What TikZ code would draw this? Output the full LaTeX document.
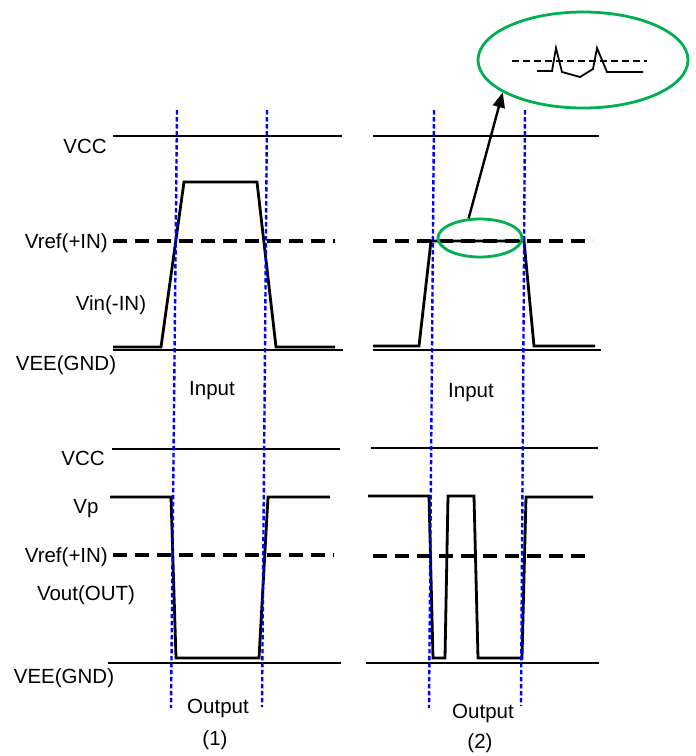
\documentclass[tikz,border=0pt]{standalone}
\usepackage{fontspec}
\setmainfont{Liberation Sans}
\usetikzlibrary{arrows.meta,shapes.geometric}
\definecolor{ogreen}{RGB}{0,176,80}
\tikzset{
  lbl/.style={inner sep=0pt, font=\fontsize{20.5}{24}\selectfont},
  rail/.style={line width=2.3pt},
  wave/.style={line width=2.8pt, line join=miter},
  refline/.style={line width=4pt, dash pattern=on 14pt off 8pt},
  guide/.style={blue, line width=2.4pt, dash pattern=on 4.5pt off 2.5pt},
  zoomell/.style={draw=ogreen, line width=2.8pt, ellipse, inner sep=0pt},
}
\begin{document}
\begin{tikzpicture}[x=1pt,y=-1pt]
\useasboundingbox (0,0) rectangle (696,756);
% ---------- top left (input 1)
\draw[rail] (113,136) -- (342,136);
\draw[rail] (113,350) -- (343,350);
\draw[refline] (113,241) -- (335,241);
\draw[wave] (113,347) -- (161,347) -- (184,182) -- (257,182) -- (276,347) -- (335,347);
% ---------- top right (input 2)
\draw[rail] (373,136) -- (599,136);
\draw[rail] (373,350) -- (601,350);
\draw[refline] (373,241) -- (593,241);
\draw[wave] (373,346) -- (419,346) -- (431,241) -- (524,241) -- (534,346) -- (595,346);
% ---------- bottom left (output 1)
\draw[rail] (112,449) -- (340,449);
\draw[rail] (108,663) -- (341,663);
\draw[refline] (113,555) -- (334,555);
\draw[wave] (110,497) -- (171,497) -- (176,658) -- (259,658) -- (268,497) -- (330,497);
% ---------- bottom right (output 2)
\draw[rail] (371,448) -- (598,448);
\draw[rail] (366,663) -- (599,663);
\draw[refline] (373,556) -- (592,556);
\draw[wave] (368,496) -- (429,496) -- (433,658) -- (445,658) -- (448,496) -- (474,496)
  -- (478,658) -- (522,658) -- (526,497) -- (593,497);
% ---------- blue guides
\draw[guide] (177,110) -- (171,708);
\draw[guide] (267,110) -- (262,707);
\draw[guide] (434,110) -- (429,708);
\draw[guide] (525,110) -- (521,706);
% ---------- zoom ellipses
\node[zoomell, minimum width=84pt, minimum height=38pt] (small) at (480,238) {};
\node[zoomell, minimum width=210pt, minimum height=96pt] (big) at (583,60) {};
\draw[line width=2.4pt, dash pattern=on 7pt off 4pt] (512,61) -- (647,61);
\draw[line width=1.8pt] (537,71) -- (552,71) -- (556,48) -- (562,72) -- (580,77) -- (593,69)
  -- (597,48) -- (607,72) -- (643,72);
\draw[line width=2.4pt, -{Triangle[length=15pt,width=12pt]}] (small.120) -- (big.202);
% ---------- labels
\node[lbl, anchor=base] (vcc1) at (85,153) {VCC};
\node[lbl, anchor=base east] (vref1) at (108,248) {Vref(+IN)};
\node[lbl, anchor=base] (vin) at (111,310) {Vin(-IN)};
\node[lbl, anchor=base] (vee1) at (66,370) {VEE(GND)};
\node[lbl, anchor=base] (in1) at (212,395) {Input};
\node[lbl, anchor=base] (in2) at (471,397) {Input};
\node[lbl, anchor=base] (vcc2) at (83,465) {VCC};
\node[lbl, anchor=base] (vp) at (86,513) {Vp};
\node[lbl, anchor=base east] (vref2) at (108,562) {Vref(+IN)};
\node[lbl, anchor=base] (vout) at (86,600) {Vout(OUT)};
\node[lbl, anchor=base] (vee2) at (64,683) {VEE(GND)};
\node[lbl, anchor=base] (out1) at (218,713) {Output};
\node[lbl, anchor=base] (n1) at (215,745) {(1)};
\node[lbl, anchor=base] (out2) at (483,718) {Output};
\node[lbl, anchor=base] (n2) at (480,748) {(2)};
\end{tikzpicture}
\end{document}
